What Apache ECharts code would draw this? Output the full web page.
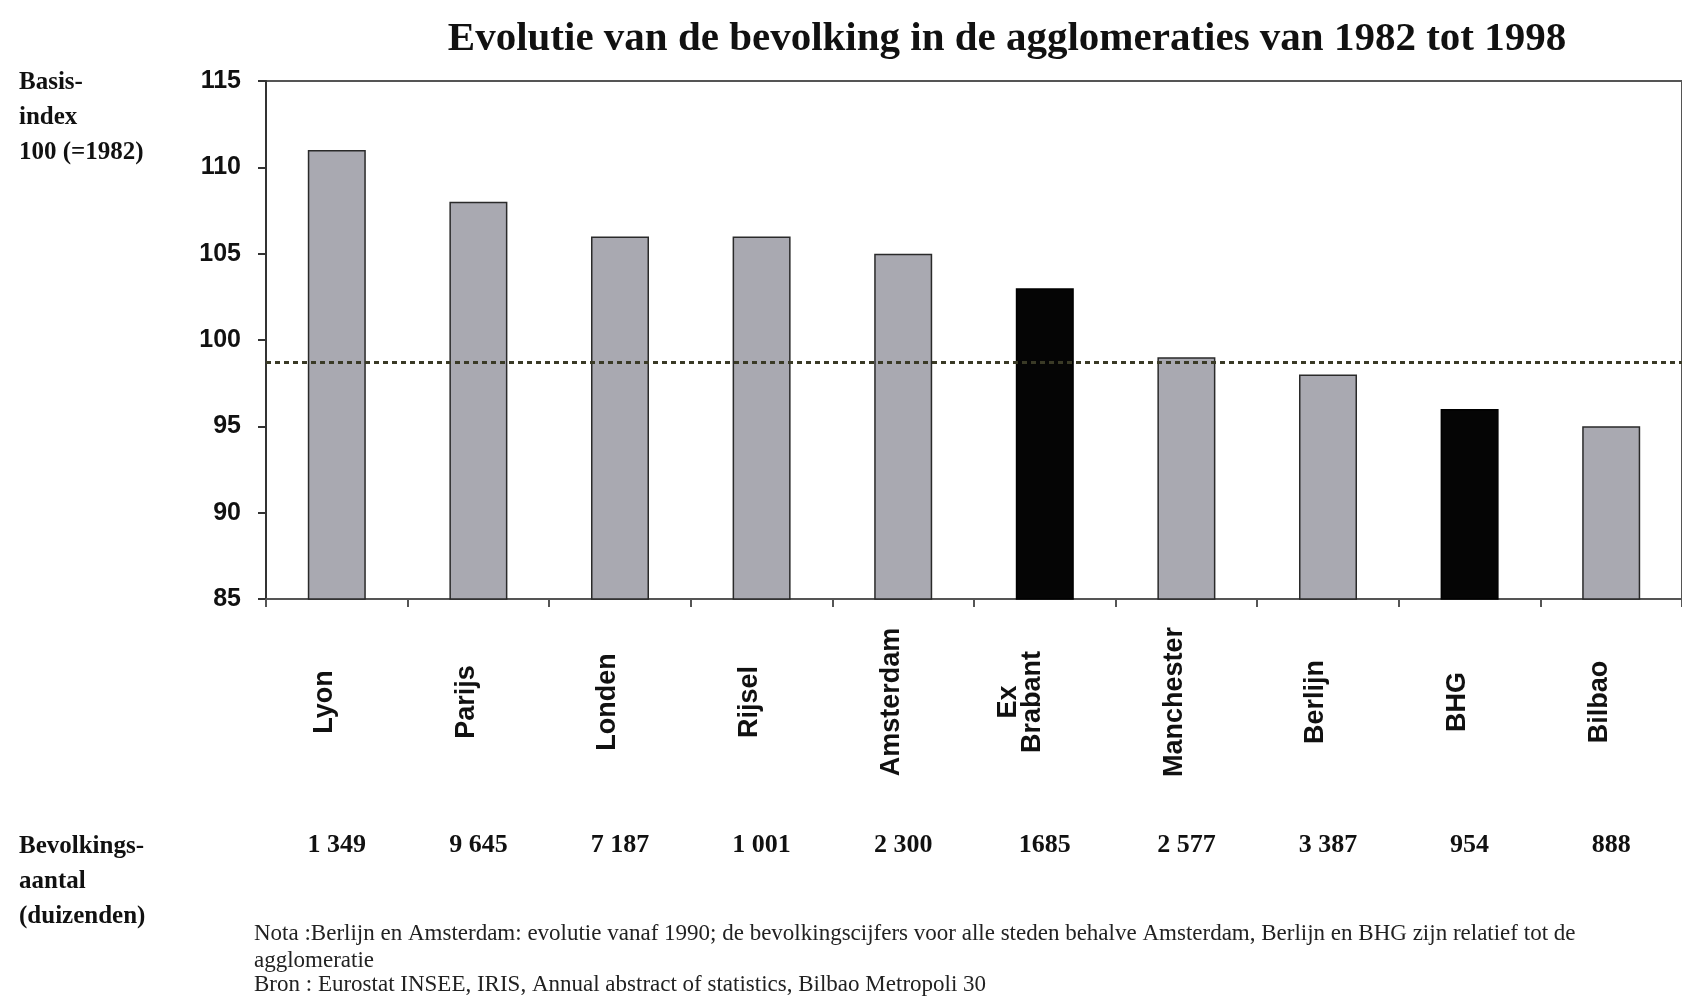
<!DOCTYPE html>
<html><head><meta charset="utf-8">
<script src="https://cdn.jsdelivr.net/npm/echarts@6/dist/echarts.min.js"></script>
<style>html,body{margin:0;padding:0;background:#fff}#c{width:1682px;height:1000px}</style>
</head><body><div id="c"></div>
<script>
const categories = ['Lyon','Parijs','Londen','Rijsel','Amsterdam','Ex\nBrabant','Manchester','Berlijn','BHG','Bilbao'];
const indexValues = [111, 108, 106, 106, 105, 103, 99, 98, 96, 95];
const highlighted = ['Ex\nBrabant','BHG'];
const populationLabels = ['1 349','9 645','7 187','1 001','2 300','1685','2 577','3 387','954','888'];
const yMin = 85, yMax = 115, yInterval = 5;
const averageIndex = 98.7;
const titleText = 'Evolutie van de bevolking in de agglomeraties van 1982 tot 1998';
const yNameLines = ['Basis-','index','100 (=1982)'];
const popNameLines = ['Bevolkings-','aantal','(duizenden)'];
const noteLines = [
  'Nota :Berlijn en Amsterdam: evolutie vanaf 1990; de bevolkingscijfers voor alle steden behalve Amsterdam, Berlijn en BHG zijn relatief tot de',
  'agglomeratie',
  'Bron : Eurostat INSEE, IRIS, Annual abstract of statistics, Bilbao Metropoli 30'
];

const chart = echarts.init(document.getElementById('c'), null, {renderer:'canvas'});

function txt(text, x, y, font, align, fill) {
  return {type:'text', x:x, y:y, silent:true,
    style:{text:text, font:font, fill:fill||'#111', textAlign:align||'left', align:align||'left', textVerticalAlign:'middle', verticalAlign:'middle'}};
}
const graphics = [];
graphics.push(txt(titleText, 1007, 39, 'bold 41px "Liberation Serif"', 'center'));
const yNameY = [83, 118, 153];
yNameLines.forEach((t,i)=>graphics.push(txt(t, 19, yNameY[i], 'bold 25px "Liberation Serif"', 'left')));
const popNameY = [847, 882, 917];
popNameLines.forEach((t,i)=>graphics.push(txt(t, 19, popNameY[i], 'bold 25px "Liberation Serif"', 'left')));
const noteY = [934, 961, 985];
noteLines.forEach((t,i)=>graphics.push(txt(t, 254, noteY[i], '23px "Liberation Serif"', 'left', '#222')));

const option = {
  animation: false,
  backgroundColor: '#fff',
  grid: {left:266, top:81, width:1422, height:518, show:true, borderColor:'#555', borderWidth:2, backgroundColor:'transparent', containLabel:false},
  xAxis: [
    {type:'category', data:categories, boundaryGap:true,
     axisLine:{onZero:false, lineStyle:{color:'#555', width:2}},
     axisTick:{show:true, length:8, lineStyle:{color:'#555', width:2}},
     axisLabel:{interval:0, rotate:90, align:'center', verticalAlign:'bottom', margin:103,
       fontFamily:'Liberation Sans', fontWeight:'bold', fontSize:27, color:'#111', lineHeight:24}},
    {type:'category', data:populationLabels, position:'bottom', gridIndex:0,
     axisLine:{show:false}, axisTick:{show:false}, splitLine:{show:false},
     axisLabel:{interval:0, margin:246, verticalAlign:'middle', fontFamily:'Liberation Serif', fontWeight:'bold', fontSize:26, color:'#111'}}
  ],
  yAxis: {type:'value', min:yMin, max:yMax, interval:yInterval,
    axisLine:{show:true, lineStyle:{color:'#333', width:2}},
    axisTick:{show:true, length:8, lineStyle:{color:'#333', width:2}},
    splitLine:{show:false},
    axisLabel:{margin:25, fontFamily:'Liberation Sans', fontWeight:'bold', fontSize:25, color:'#111'}},
  series: [{
    type:'bar', xAxisIndex:0, barWidth:58,
    data: indexValues.map((v,i)=>({value:v, itemStyle: highlighted.includes(categories[i])
      ? {color:'#050505', borderColor:'#000', borderWidth:1.5}
      : {color:'#a9a9b1', borderColor:'#2a2a2a', borderWidth:1.5}})),
    markLine:{silent:true, symbol:'none', label:{show:false},
      lineStyle:{color:'#3a3a26', type:[5,4], width:3},
      data:[{yAxis:averageIndex}]}
  }],
  graphic: graphics
};
chart.setOption(option);
</script>
</body></html>
